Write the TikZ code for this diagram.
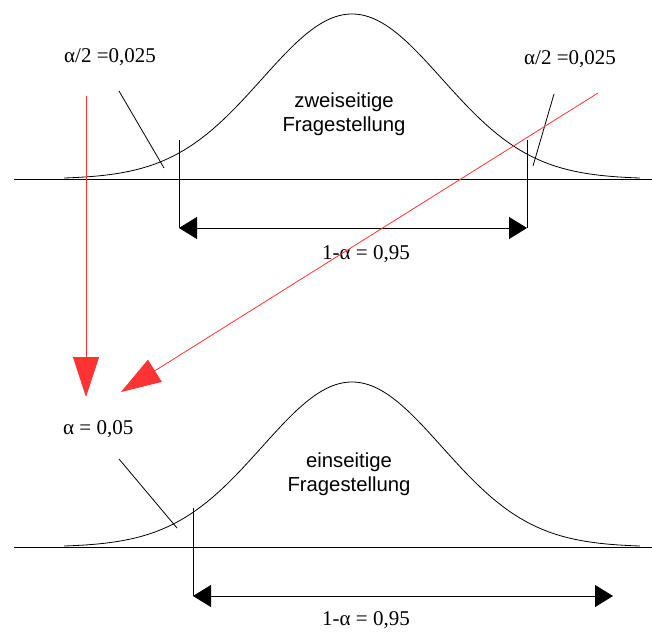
\documentclass[tikz,border=0pt]{standalone}
\usepackage{fontspec}
\setmainfont{Liberation Serif}
\newfontfamily\sansf{Liberation Sans}
\usetikzlibrary{arrows.meta}
\definecolor{redc}{HTML}{FF3333}
\begin{document}
\begin{tikzpicture}[x=1pt,y=-1pt,
  thinline/.style={line width=0.8pt, black},
  redline/.style={line width=0.8pt, draw=redc},
  dimarrow/.style={line width=0.9pt, {Triangle[length=18pt,width=22pt]}-{Triangle[length=18pt,width=22pt]}},
  redarrow/.style={redline, -{Triangle[length=40pt,width=26pt,fill=redc]}},
  lab/.style={font=\fontsize{21}{25}\selectfont, inner sep=0pt, anchor=base west},
  sanslab/.style={font=\sansf\fontsize{20.3}{24}\selectfont, align=center, inner sep=0pt}]
\useasboundingbox (0,0) rectangle (652,631);

% ---------- top: two-sided ----------
\coordinate (tb1) at (14,179);
\coordinate (tb2) at (652,179);
\draw[thinline] (tb1) -- (tb2);
\draw[thinline] plot[domain=-3.2:3.2, samples=160, smooth] ({352+90*\x}, {179-165*exp(-\x*\x/2)});

\coordinate (tl1) at (179,140);
\coordinate (tl2) at (179,228);
\coordinate (tr1) at (527,140);
\coordinate (tr2) at (527,228);
\draw[thinline] (tl1) -- (tl2);
\draw[thinline] (tr1) -- (tr2);
\draw[dimarrow] (tl2) -- (tr2);

\coordinate (ts1a) at (119,91);
\coordinate (ts1b) at (164,168);
\coordinate (ts2a) at (554,94);
\coordinate (ts2b) at (533,166);
\draw[thinline] (ts1a) -- (ts1b);
\draw[thinline] (ts2a) -- (ts2b);

\node[lab] (la1) at (64,63) {α/2 =0,025};
\node[lab] (la2) at (524,65) {α/2 =0,025};
\node[lab] (conf1) at (322,259) {1-α = 0,95};
\node[sanslab] (zw) at (344,114) {zweiseitige\\Fragestellung};

% ---------- bottom: one-sided ----------
\coordinate (bb1) at (14,547);
\coordinate (bb2) at (652,547);
\draw[thinline] (bb1) -- (bb2);
\draw[thinline] plot[domain=-3.2:3.2, samples=160, smooth] ({352+90*\x}, {547-165*exp(-\x*\x/2)});

\coordinate (bl1) at (193,508);
\coordinate (bl2) at (193,596);
\coordinate (br2) at (613,596);
\draw[thinline] (bl1) -- (bl2);
\draw[dimarrow] (bl2) -- (br2);

\coordinate (bs1a) at (119,459);
\coordinate (bs1b) at (177,528);
\draw[thinline] (bs1a) -- (bs1b);

\node[lab] (la3) at (63,434) {α = 0,05};
\node[lab] (conf2) at (322,625.5) {1-α = 0,95};
\node[sanslab] (ein) at (349,474) {einseitige\\Fragestellung};

% ---------- red arrows ----------
\coordinate (r1a) at (86,96);
\coordinate (r1b) at (86,397);
\coordinate (r2a) at (598,93);
\coordinate (r2b) at (121,392);
\draw[redarrow] (r1a) -- (r1b);
\draw[redarrow] (r2a) -- (r2b);
\end{tikzpicture}
\end{document}
